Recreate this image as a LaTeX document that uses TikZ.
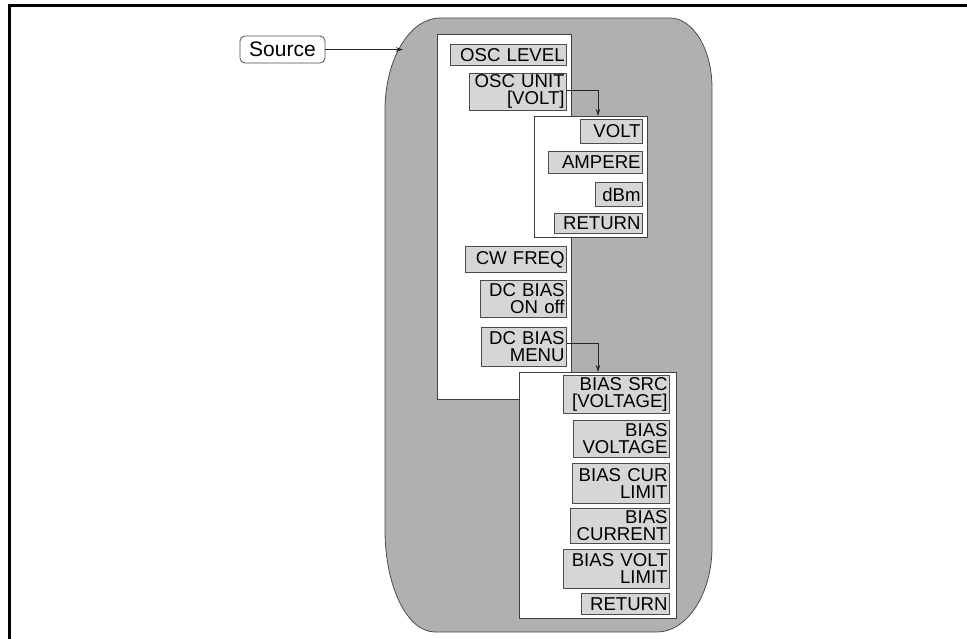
\documentclass[tikz,border=0pt]{standalone}
\usepackage{fontspec}
\newfontfamily\btnfont{Liberation Sans}
\usetikzlibrary{arrows.meta}
\tikzset{
  btn/.style 2 args={draw=black!70, fill=black!16, line width=0.8pt, anchor=north east,
    minimum height=#2, text width=#1, inner xsep=2pt, inner ysep=0pt, align=right,
    font={\btnfont\fontsize{18.6}{17}\selectfont}},
  panel/.style={draw=black!75, fill=white, line width=0.8pt, anchor=north west, inner sep=0pt},
  region/.style={draw=black!70, fill=black!31, line width=0.8pt},
  frame/.style={line width=2.5pt, black},
  conn/.style={draw=black!85, line width=0.8pt, -{Stealth[length=7pt,width=4.5pt]}},
  srcbox/.style={draw=black!70, rounded corners=5pt, line width=0.8pt, minimum width=85, minimum height=27,
    inner sep=0pt, font={\btnfont\fontsize{21}{24}\selectfont}}
}
\begin{document}
\begin{tikzpicture}[x=1pt,y=-1pt]
\useasboundingbox (0,0) rectangle (967,639);
% frame
\draw[frame] (9.5,639) -- (9.5,5.5) -- (967,5.5);
% shaded region
\path[region] (440,18) -- (670,18) .. controls (693,18) and (712,49) .. (712,88)
  -- (712,547) .. controls (712,594) and (687,632) .. (657,632)
  -- (435,632) .. controls (407,632) and (385,586) .. (385,530)
  -- (385,110) .. controls (385,59) and (410,18) .. (440,18) -- cycle;
% source
\node[srcbox] (source) at (282.5,49.5) {Source};
\coordinate (srcin) at (403,49.5);
\draw[conn] (source.east) -- (srcin);
% main panel
\node[panel, minimum width=134, minimum height=365] (mainpanel) at (437,34) {};
\node[btn={112pt}{21}] (osclevel) at (567,44) {OSC LEVEL};
\node[btn={93pt}{37}] (oscunit) at (567,73) {OSC UNIT\\{[VOLT]}};
\node[btn={97pt}{26}] (cwfreq) at (567,246) {CW FREQ};
\node[btn={82pt}{37}] (dcbias) at (567,280) {DC BIAS\\ON off};
\node[btn={81pt}{39}] (dcmenu) at (567,327) {DC BIAS\\MENU};
% volt panel
\node[panel, minimum width=113, minimum height=121] (voltpanel) at (534,116) {};
\node[btn={58pt}{24}] (volt) at (643,119) {VOLT};
\node[btn={90pt}{22}] (ampere) at (643,151) {AMPERE};
\node[btn={43pt}{24}] (dbm) at (643,182) {dBm};
\node[btn={84pt}{20}] (retone) at (643,213) {RETURN};
% bias panel
\node[panel, minimum width=157, minimum height=246] (biaspanel) at (519,372) {};
\node[btn={102pt}{38}] (biassrc) at (670,375) {BIAS SRC\\{[VOLTAGE]}};
\node[btn={92pt}{37}] (biasvolt) at (670,420) {BIAS\\VOLTAGE};
\node[btn={93pt}{40}] (biascur) at (670,463) {BIAS CUR\\LIMIT};
\node[btn={95pt}{35}] (biascurrent) at (670,508) {BIAS\\CURRENT};
\node[btn={102pt}{39}] (biasvlimit) at (670,549) {BIAS VOLT\\LIMIT};
\node[btn={84pt}{21}] (rettwo) at (670,593) {RETURN};
% connectors
\coordinate (vin) at (598,116);
\coordinate (bin) at (598,372);
\draw[conn] (oscunit.east |- 0,90) -| (vin);
\draw[conn] (dcmenu.east |- 0,343) -| (bin);
\end{tikzpicture}
\end{document}
